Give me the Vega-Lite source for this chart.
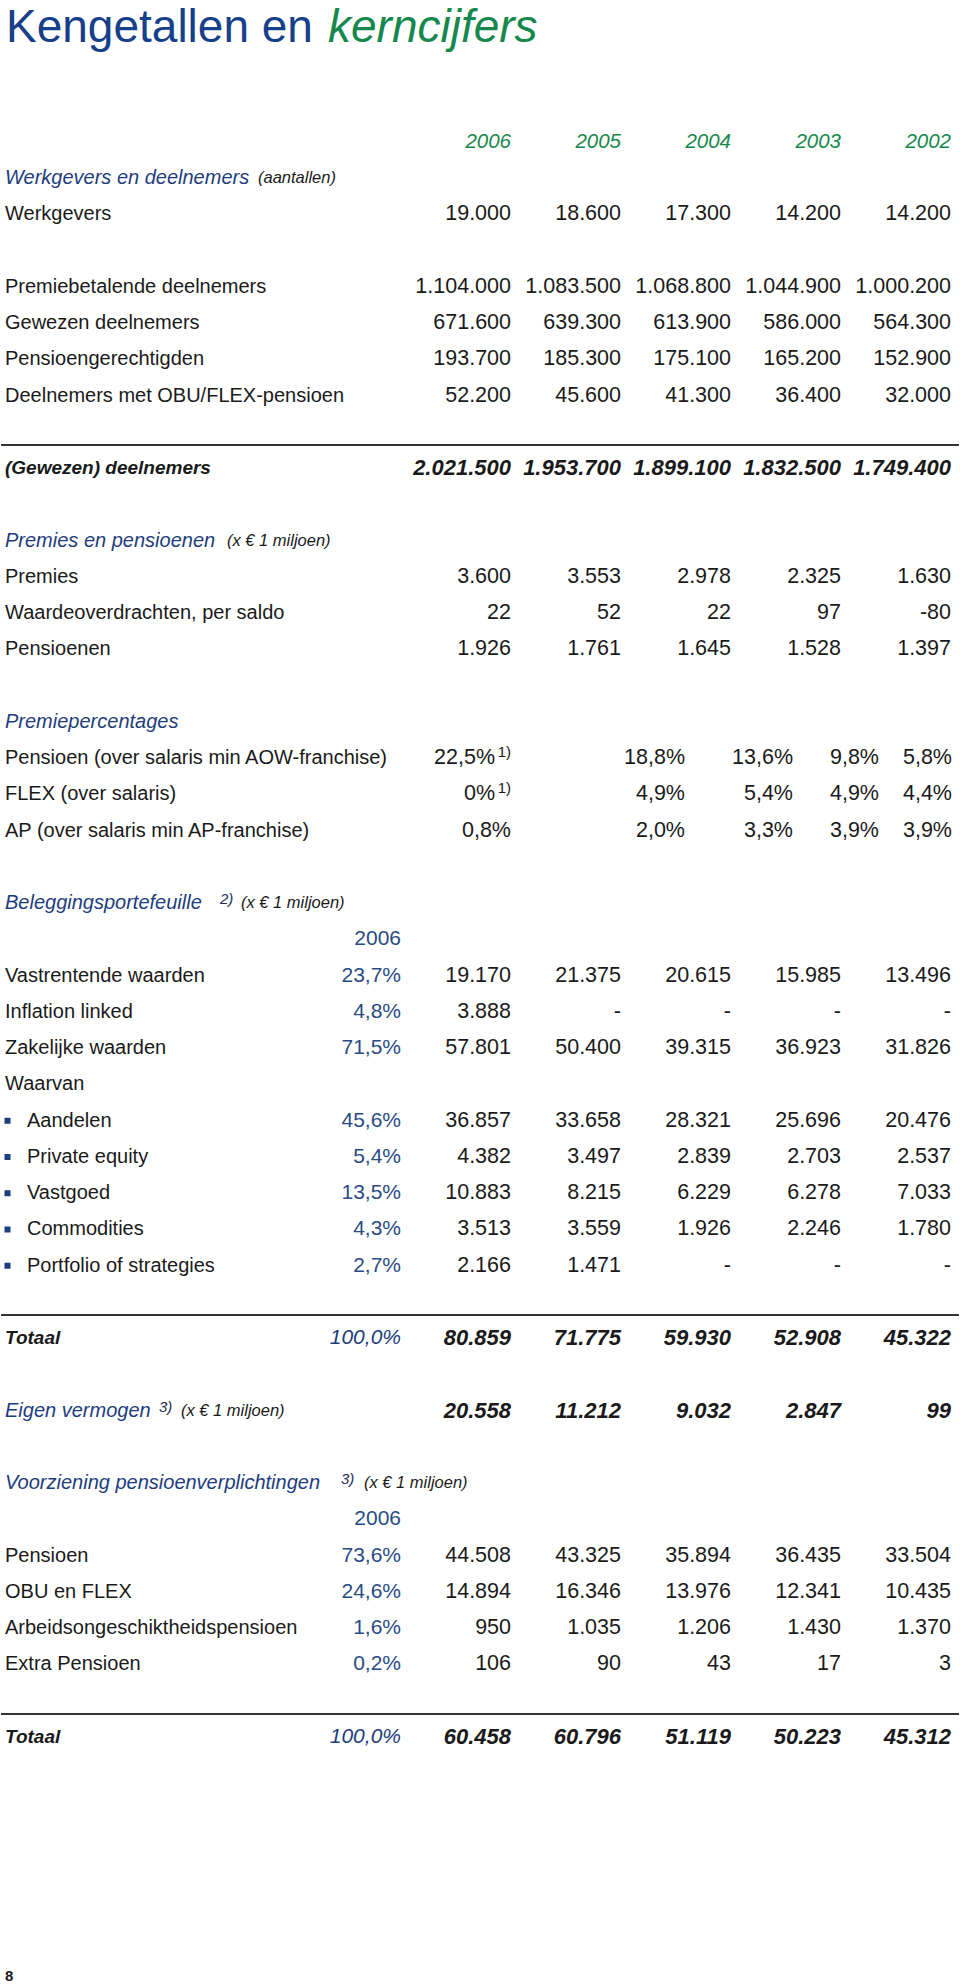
{
  "$schema": "https://vega.github.io/schema/vega-lite/v6.json",
  "width": 960,
  "height": 1984,
  "autosize": {"type": "fit", "contains": "padding"},
  "padding": 0,
  "background": "#ffffff",
  "config": {"view": {"stroke": null}, "text": {"font": "Liberation Sans"}},
  "datasets": {
    "title": [
      {"line": -2.76, "part": "Kengetallen en"},
      {"line": -2.76, "part": "kerncijfers"}
    ],
    "rules": [{"line": 8.359}, {"line": 32.359}, {"line": 43.366}],
    "rows": [
      {"line": 0, "kind": "years", "2006": "2006", "2005": "2005", "2004": "2004", "2003": "2003", "2002": "2002"},
      {"line": 1, "kind": "head", "level": 0, "label": "Werkgevers en deelnemers", "sub": "(aantallen)"},
      {"line": 2, "kind": "row", "level": 0, "label": "Werkgevers", "2006": "19.000", "2005": "18.600", "2004": "17.300", "2003": "14.200", "2002": "14.200"},
      {"line": 4, "kind": "row", "level": 0, "label": "Premiebetalende deelnemers", "2006": "1.104.000", "2005": "1.083.500", "2004": "1.068.800", "2003": "1.044.900", "2002": "1.000.200"},
      {"line": 5, "kind": "row", "level": 0, "label": "Gewezen deelnemers", "2006": "671.600", "2005": "639.300", "2004": "613.900", "2003": "586.000", "2002": "564.300"},
      {"line": 6, "kind": "row", "level": 0, "label": "Pensioengerechtigden", "2006": "193.700", "2005": "185.300", "2004": "175.100", "2003": "165.200", "2002": "152.900"},
      {"line": 7, "kind": "row", "level": 0, "label": "Deelnemers met OBU/FLEX-pensioen", "2006": "52.200", "2005": "45.600", "2004": "41.300", "2003": "36.400", "2002": "32.000"},
      {"line": 9, "kind": "total", "level": 0, "label": "(Gewezen) deelnemers", "2006": "2.021.500", "2005": "1.953.700", "2004": "1.899.100", "2003": "1.832.500", "2002": "1.749.400"},
      {"line": 11, "kind": "head", "level": 0, "label": "Premies en pensioenen", "sub": "(x € 1 miljoen)"},
      {"line": 12, "kind": "row", "level": 0, "label": "Premies", "2006": "3.600", "2005": "3.553", "2004": "2.978", "2003": "2.325", "2002": "1.630"},
      {"line": 13, "kind": "row", "level": 0, "label": "Waardeoverdrachten, per saldo", "2006": "22", "2005": "52", "2004": "22", "2003": "97", "2002": "-80"},
      {"line": 14, "kind": "row", "level": 0, "label": "Pensioenen", "2006": "1.926", "2005": "1.761", "2004": "1.645", "2003": "1.528", "2002": "1.397"},
      {"line": 16, "kind": "head", "level": 0, "label": "Premiepercentages"},
      {"line": 17, "kind": "rate", "level": 0, "label": "Pensioen (over salaris min AOW-franchise)", "note": "1)", "2006": "22,5%", "2005": "18,8%", "2004": "13,6%", "2003": "9,8%", "2002": "5,8%"},
      {"line": 18, "kind": "rate", "level": 0, "label": "FLEX (over salaris)", "note": "1)", "2006": "0%", "2005": "4,9%", "2004": "5,4%", "2003": "4,9%", "2002": "4,4%"},
      {"line": 19, "kind": "rate", "level": 0, "label": "AP (over salaris min AP-franchise)", "2006": "0,8%", "2005": "2,0%", "2004": "3,3%", "2003": "3,9%", "2002": "3,9%"},
      {"line": 21, "kind": "head", "level": 0, "label": "Beleggingsportefeuille", "sup": "2)", "sub": "(x € 1 miljoen)"},
      {"line": 22, "kind": "pcthead", "pct": "2006"},
      {"line": 23, "kind": "row", "level": 0, "label": "Vastrentende waarden", "pct": "23,7%", "2006": "19.170", "2005": "21.375", "2004": "20.615", "2003": "15.985", "2002": "13.496"},
      {"line": 24, "kind": "row", "level": 0, "label": "Inflation linked", "pct": "4,8%", "2006": "3.888", "2005": "-", "2004": "-", "2003": "-", "2002": "-"},
      {"line": 25, "kind": "row", "level": 0, "label": "Zakelijke waarden", "pct": "71,5%", "2006": "57.801", "2005": "50.400", "2004": "39.315", "2003": "36.923", "2002": "31.826"},
      {"line": 26, "kind": "row", "level": 0, "label": "Waarvan"},
      {"line": 27, "kind": "row", "level": 1, "label": "Aandelen", "pct": "45,6%", "2006": "36.857", "2005": "33.658", "2004": "28.321", "2003": "25.696", "2002": "20.476"},
      {"line": 28, "kind": "row", "level": 1, "label": "Private equity", "pct": "5,4%", "2006": "4.382", "2005": "3.497", "2004": "2.839", "2003": "2.703", "2002": "2.537"},
      {"line": 29, "kind": "row", "level": 1, "label": "Vastgoed", "pct": "13,5%", "2006": "10.883", "2005": "8.215", "2004": "6.229", "2003": "6.278", "2002": "7.033"},
      {"line": 30, "kind": "row", "level": 1, "label": "Commodities", "pct": "4,3%", "2006": "3.513", "2005": "3.559", "2004": "1.926", "2003": "2.246", "2002": "1.780"},
      {"line": 31, "kind": "row", "level": 1, "label": "Portfolio of strategies", "pct": "2,7%", "2006": "2.166", "2005": "1.471", "2004": "-", "2003": "-", "2002": "-"},
      {"line": 33, "kind": "total", "level": 0, "label": "Totaal", "pct": "100,0%", "2006": "80.859", "2005": "71.775", "2004": "59.930", "2003": "52.908", "2002": "45.322"},
      {"line": 35, "kind": "headtotal", "level": 0, "label": "Eigen vermogen", "sup": "3)", "sub": "(x € 1 miljoen)", "2006": "20.558", "2005": "11.212", "2004": "9.032", "2003": "2.847", "2002": "99"},
      {"line": 37, "kind": "head", "level": 0, "label": "Voorziening pensioenverplichtingen", "sup": "3)", "sub": "(x € 1 miljoen)"},
      {"line": 38, "kind": "pcthead", "pct": "2006"},
      {"line": 39, "kind": "row", "level": 0, "label": "Pensioen", "pct": "73,6%", "2006": "44.508", "2005": "43.325", "2004": "35.894", "2003": "36.435", "2002": "33.504"},
      {"line": 40, "kind": "row", "level": 0, "label": "OBU en FLEX", "pct": "24,6%", "2006": "14.894", "2005": "16.346", "2004": "13.976", "2003": "12.341", "2002": "10.435"},
      {"line": 41, "kind": "row", "level": 0, "label": "Arbeidsongeschiktheidspensioen", "pct": "1,6%", "2006": "950", "2005": "1.035", "2004": "1.206", "2003": "1.430", "2002": "1.370"},
      {"line": 42, "kind": "row", "level": 0, "label": "Extra Pensioen", "pct": "0,2%", "2006": "106", "2005": "90", "2004": "43", "2003": "17", "2002": "3"},
      {"line": 44, "kind": "total", "level": 0, "label": "Totaal", "pct": "100,0%", "2006": "60.458", "2005": "60.796", "2004": "51.119", "2003": "50.223", "2002": "45.312"},
      {"line": 50.6, "kind": "page", "level": 0, "label": "8"}
    ]
  },
  "encoding": {
    "y": {"field": "line", "type": "quantitative", "scale": {"domain": [-3.917, 50.814], "range": [0, 1984], "nice": false, "zero": false}, "axis": null}
  },
  "layer": [
    {
      "data": {"name": "title"},
      "encoding": {
        "x": {"field": "part", "type": "nominal", "scale": {"type": "point", "domain": ["Kengetallen en", "kerncijfers"], "range": [5, 327], "padding": 0}, "axis": null},
        "text": {"field": "part"}
      },
      "layer": [
        {"transform": [{"filter": "datum.part == 'Kengetallen en'"}], "mark": {"type": "text", "align": "left", "baseline": "alphabetic", "fontSize": 46, "color": "#17408a"}},
        {"transform": [{"filter": "datum.part == 'kerncijfers'"}], "mark": {"type": "text", "align": "left", "baseline": "alphabetic", "fontSize": 46, "fontStyle": "italic", "color": "#17884d"}}
      ]
    },
    {
      "data": {"name": "rules"},
      "mark": {"type": "rule", "color": "#333333", "strokeWidth": 1.8},
      "encoding": {}
    },
    {
      "data": {"name": "rows"},
      "encoding": {
        "x": {"field": "level", "type": "ordinal", "scale": {"type": "point", "domain": [0, 1], "range": [4, 26], "padding": 0}, "axis": null}
      },
      "layer": [
        {"transform": [{"filter": "datum.kind == 'row' || datum.kind == 'rate'"}], "mark": {"type": "text", "align": "left", "baseline": "middle", "fontSize": 20, "color": "#1a1a1a"}, "encoding": {"text": {"field": "label"}}},
        {"transform": [{"filter": "datum.kind == 'total'"}], "mark": {"type": "text", "align": "left", "baseline": "middle", "fontSize": 19, "fontWeight": "bold", "fontStyle": "italic", "color": "#1a1a1a"}, "encoding": {"text": {"field": "label"}}},
        {"transform": [{"filter": "datum.kind == 'head' || datum.kind == 'headtotal'"}], "mark": {"type": "text", "align": "left", "baseline": "middle", "fontSize": 20, "fontStyle": "italic", "color": "#1d3d7c"}, "encoding": {"text": {"field": "label"}}},
        {"transform": [{"filter": "datum.kind == 'page'"}], "mark": {"type": "text", "align": "left", "baseline": "middle", "fontSize": 15, "fontWeight": "bold", "color": "#1a1a1a"}, "encoding": {"text": {"field": "label"}}},
        {"transform": [{"filter": "datum.line == 1"}], "mark": {"type": "text", "align": "left", "baseline": "middle", "fontSize": 16.5, "fontStyle": "italic", "color": "#1a1a1a", "dx": 253}, "encoding": {"text": {"field": "sub"}}},
        {"transform": [{"filter": "datum.line == 11"}], "mark": {"type": "text", "align": "left", "baseline": "middle", "fontSize": 16.5, "fontStyle": "italic", "color": "#1a1a1a", "dx": 222}, "encoding": {"text": {"field": "sub"}}},
        {"transform": [{"filter": "datum.line == 21"}], "mark": {"type": "text", "align": "left", "baseline": "middle", "fontSize": 16.5, "fontStyle": "italic", "color": "#1a1a1a", "dx": 236}, "encoding": {"text": {"field": "sub"}}},
        {"transform": [{"filter": "datum.line == 35"}], "mark": {"type": "text", "align": "left", "baseline": "middle", "fontSize": 16.5, "fontStyle": "italic", "color": "#1a1a1a", "dx": 176}, "encoding": {"text": {"field": "sub"}}},
        {"transform": [{"filter": "datum.line == 37"}], "mark": {"type": "text", "align": "left", "baseline": "middle", "fontSize": 16.5, "fontStyle": "italic", "color": "#1a1a1a", "dx": 359}, "encoding": {"text": {"field": "sub"}}},
        {"transform": [{"filter": "datum.line == 21"}], "mark": {"type": "text", "align": "left", "baseline": "middle", "fontSize": 15, "fontStyle": "italic", "color": "#1d2d55", "dx": 215, "dy": -4}, "encoding": {"text": {"field": "sup"}}},
        {"transform": [{"filter": "datum.line == 35"}], "mark": {"type": "text", "align": "left", "baseline": "middle", "fontSize": 15, "fontStyle": "italic", "color": "#1d2d55", "dx": 154, "dy": -4}, "encoding": {"text": {"field": "sup"}}},
        {"transform": [{"filter": "datum.line == 37"}], "mark": {"type": "text", "align": "left", "baseline": "middle", "fontSize": 15, "fontStyle": "italic", "color": "#1d2d55", "dx": 336, "dy": -4}, "encoding": {"text": {"field": "sup"}}}
      ]
    },
    {
      "data": {"name": "rows"},
      "transform": [
        {"fold": ["pct", "2006", "2005", "2004", "2003", "2002"], "as": ["col", "val"]},
        {"filter": "isValid(datum.val) && datum.kind != 'rate'"}
      ],
      "encoding": {
        "x": {"field": "col", "type": "nominal", "scale": {"type": "point", "domain": ["pct", "2006", "2005", "2004", "2003", "2002"], "range": [400, 950], "padding": 0}, "axis": null},
        "text": {"field": "val"}
      },
      "layer": [
        {"transform": [{"filter": "datum.kind == 'row' && datum.col != 'pct'"}], "mark": {"type": "text", "align": "right", "baseline": "middle", "fontSize": 21.5, "color": "#1a1a1a"}},
        {"transform": [{"filter": "(datum.kind == 'row' || datum.kind == 'pcthead') && datum.col == 'pct'"}], "mark": {"type": "text", "align": "right", "baseline": "middle", "fontSize": 21, "color": "#2a4b85"}},
        {"transform": [{"filter": "(datum.kind == 'total' || datum.kind == 'headtotal') && datum.col != 'pct'"}], "mark": {"type": "text", "align": "right", "baseline": "middle", "fontSize": 22, "fontWeight": "bold", "fontStyle": "italic", "color": "#1a1a1a"}},
        {"transform": [{"filter": "datum.kind == 'total' && datum.col == 'pct'"}], "mark": {"type": "text", "align": "right", "baseline": "middle", "fontSize": 21, "fontStyle": "italic", "color": "#1d3d7c"}},
        {"transform": [{"filter": "datum.kind == 'years'"}], "mark": {"type": "text", "align": "right", "baseline": "middle", "fontSize": 20.5, "fontStyle": "italic", "color": "#17884d"}}
      ]
    },
    {
      "data": {"name": "rows"},
      "transform": [
        {"fold": ["2006", "2005", "2004", "2003", "2002"], "as": ["col", "val"]},
        {"filter": "isValid(datum.val) && datum.kind == 'rate'"}
      ],
      "encoding": {
        "x": {"field": "col", "type": "nominal", "scale": {"type": "point", "domain": ["2006", "2005", "2004", "2003", "2002"], "range": [510, 950], "padding": 0}, "axis": null},
        "text": {"field": "val"}
      },
      "layer": [
        {"transform": [{"filter": "datum.col == '2006' && !isValid(datum.note)"}], "mark": {"type": "text", "align": "right", "baseline": "middle", "fontSize": 21.5, "color": "#1a1a1a"}},
        {"transform": [{"filter": "datum.col == '2006' && isValid(datum.note)"}], "mark": {"type": "text", "align": "right", "baseline": "middle", "fontSize": 21.5, "color": "#1a1a1a", "dx": -16}},
        {"transform": [{"filter": "datum.col == '2006' && isValid(datum.note)"}], "mark": {"type": "text", "align": "right", "baseline": "middle", "fontSize": 15, "color": "#1a1a1a", "dy": -6}, "encoding": {"text": {"field": "note"}}},
        {"transform": [{"filter": "datum.col == '2005'"}], "mark": {"type": "text", "align": "right", "baseline": "middle", "fontSize": 21.5, "color": "#1a1a1a", "dx": 64}},
        {"transform": [{"filter": "datum.col == '2004'"}], "mark": {"type": "text", "align": "right", "baseline": "middle", "fontSize": 21.5, "color": "#1a1a1a", "dx": 62}},
        {"transform": [{"filter": "datum.col == '2003'"}], "mark": {"type": "text", "align": "right", "baseline": "middle", "fontSize": 21.5, "color": "#1a1a1a", "dx": 38}},
        {"transform": [{"filter": "datum.col == '2002'"}], "mark": {"type": "text", "align": "right", "baseline": "middle", "fontSize": 21.5, "color": "#1a1a1a", "dx": 1}}
      ]
    },
    {
      "data": {"name": "rows"},
      "transform": [{"filter": "datum.level == 1"}],
      "mark": {"type": "square", "size": 36, "color": "#1d3d7c", "filled": true, "opacity": 1},
      "encoding": {
        "x": {"field": "level", "type": "ordinal", "scale": {"type": "point", "domain": [1], "range": [6, 7], "padding": 0}, "axis": null}
      }
    }
  ],
  "resolve": {"scale": {"x": "independent"}}
}
